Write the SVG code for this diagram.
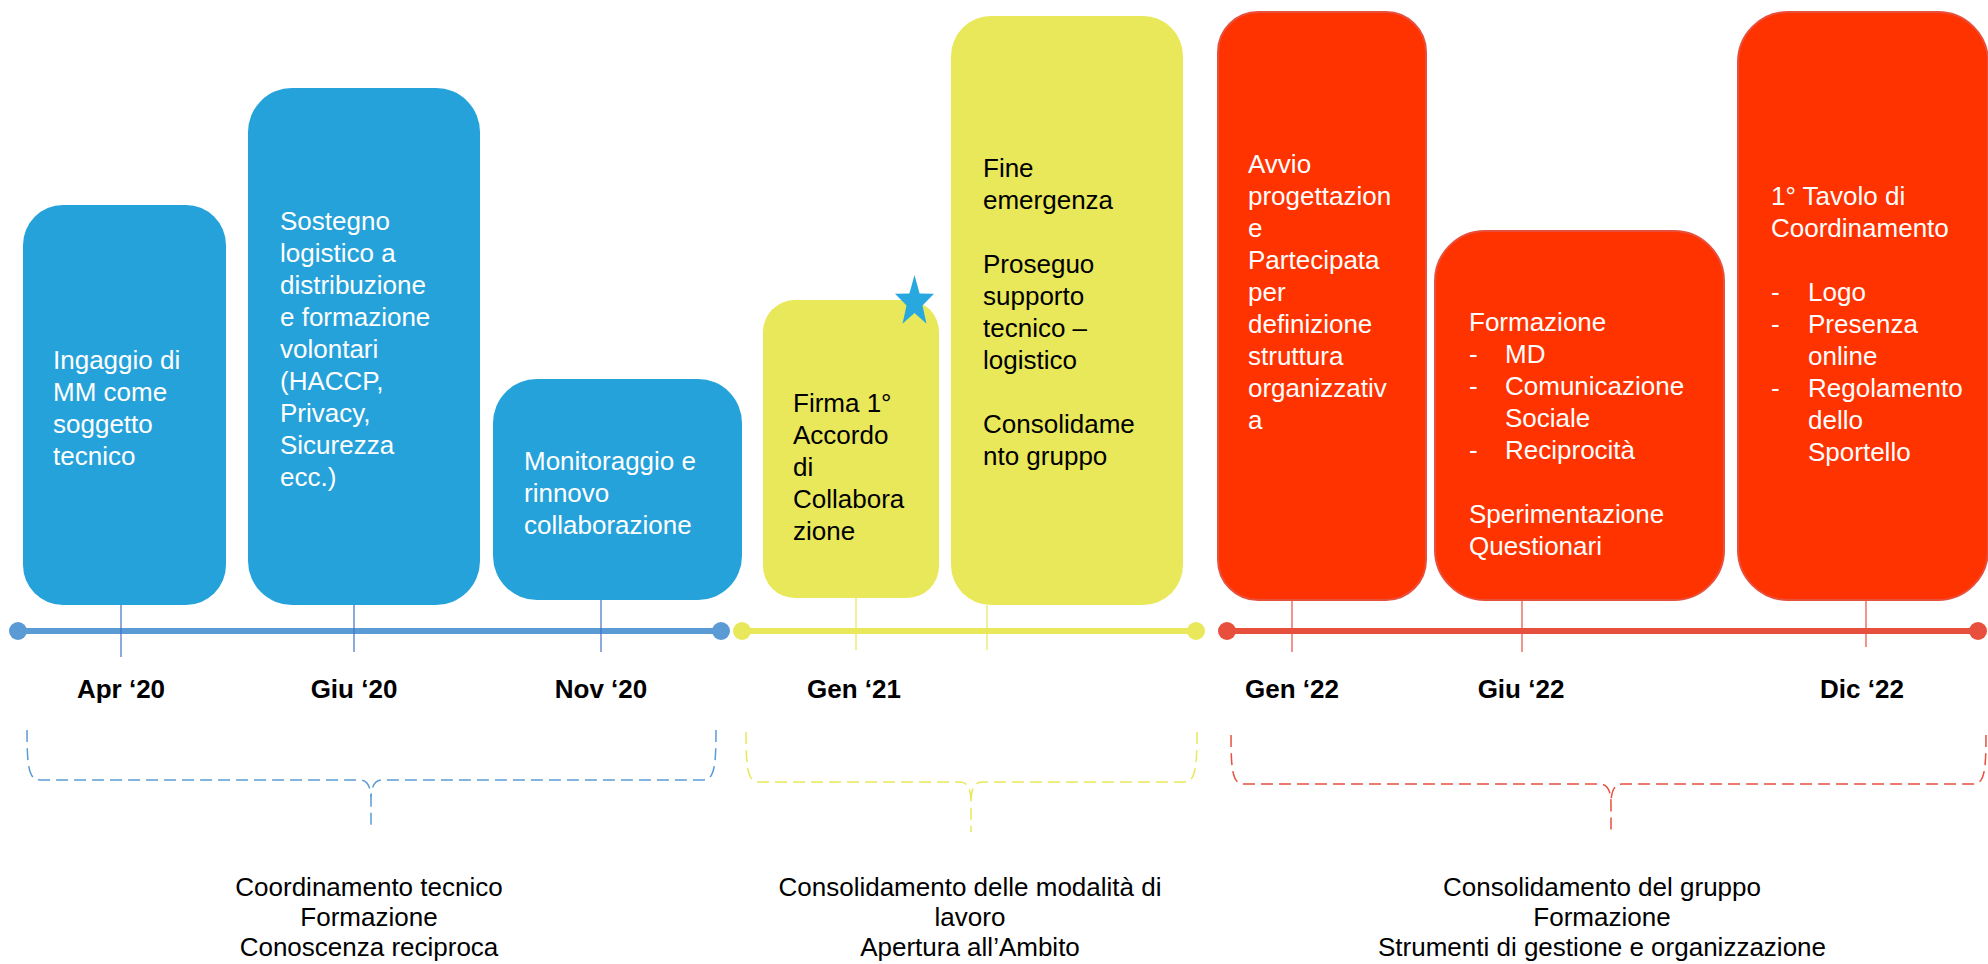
<svg xmlns="http://www.w3.org/2000/svg" width="1988" height="964" viewBox="0 0 1988 964">
<style>
.bt{font-family:"Liberation Sans",Arial,sans-serif;font-size:26px;fill:#fff}
.yt{font-family:"Liberation Sans",Arial,sans-serif;font-size:26px;fill:#000}
.dl{font-family:"Liberation Sans",Arial,sans-serif;font-size:26px;font-weight:bold;fill:#000;text-anchor:middle}
.gl{font-family:"Liberation Sans",Arial,sans-serif;font-size:26px;fill:#000;text-anchor:middle}
.blue{fill:#26A2DA}
.yel{fill:#E8E85A}
.red{fill:#FF3300;stroke:#E8503E;stroke-width:2}
.brace{fill:none;stroke-width:1.5;stroke-dasharray:12 6}
</style>
<rect width="1988" height="964" fill="#fff"/>

<g id="connectors">
  <!-- timelines -->
  <line x1="18" y1="631" x2="721" y2="631" stroke="#5B9BD5" stroke-width="6"/>
  <circle cx="18" cy="631" r="9" fill="#5B9BD5"/>
  <circle cx="721" cy="631" r="9" fill="#5B9BD5"/>
  <line x1="742" y1="631" x2="1196" y2="631" stroke="#E8E85A" stroke-width="6"/>
  <circle cx="742" cy="631" r="9" fill="#E8E85A"/>
  <circle cx="1196" cy="631" r="9" fill="#E8E85A"/>
  <line x1="1227" y1="631" x2="1978" y2="631" stroke="#E8503E" stroke-width="6"/>
  <circle cx="1227" cy="631" r="9" fill="#E8503E"/>
  <circle cx="1978" cy="631" r="9" fill="#E8503E"/>
  <!-- ticks -->
  <g stroke="#4472C4" stroke-width="1.2">
    <line x1="121" y1="605" x2="121" y2="657"/>
    <line x1="354" y1="605" x2="354" y2="652"/>
    <line x1="601" y1="600" x2="601" y2="652"/>
  </g>
  <g stroke="#E8E85A" stroke-width="1.2">
    <line x1="856" y1="598" x2="856" y2="650"/>
    <line x1="987" y1="605" x2="987" y2="650"/>
  </g>
  <g stroke="#E8503E" stroke-width="1.2">
    <line x1="1292" y1="600" x2="1292" y2="652"/>
    <line x1="1522" y1="600" x2="1522" y2="652"/>
    <line x1="1866" y1="600" x2="1866" y2="647"/>
  </g>
  <!-- braces -->
  <path class="brace" stroke="#5B9BD5" d="M27,730 C27,768 29,780 40,780 H360 C367,780 371,786 371,800 V830 M716,730 C716,768 714,780 703,780 H382 C375,780 371,786 371,800"/>
  <path class="brace" stroke="#E8E85A" d="M746,732 C746,770 748,782 759,782 H960 C967,782 971,788 971,802 V832 M1197,732 C1197,770 1195,782 1184,782 H982 C975,782 971,788 971,802"/>
  <path class="brace" stroke="#E8503E" d="M1231,735 C1231,773 1233,784 1244,784 H1600 C1607,784 1611,790 1611,804 V834 M1986,735 C1986,773 1984,784 1973,784 H1622 C1615,784 1611,790 1611,804"/>
</g>

<g id="box1">
  <rect class="blue" x="23" y="205" width="203" height="400" rx="40" ry="40"/>
  <text class="bt" x="53" y="369">Ingaggio di</text>
  <text class="bt" x="53" y="401">MM come</text>
  <text class="bt" x="53" y="433">soggetto</text>
  <text class="bt" x="53" y="465">tecnico</text>
</g>
<g id="box2">
  <rect class="blue" x="248" y="88" width="232" height="517" rx="44" ry="44"/>
  <text class="bt" x="280" y="230">Sostegno</text>
  <text class="bt" x="280" y="262">logistico a</text>
  <text class="bt" x="280" y="294">distribuzione</text>
  <text class="bt" x="280" y="326">e formazione</text>
  <text class="bt" x="280" y="358">volontari</text>
  <text class="bt" x="280" y="390">(HACCP,</text>
  <text class="bt" x="280" y="422">Privacy,</text>
  <text class="bt" x="280" y="454">Sicurezza</text>
  <text class="bt" x="280" y="486">ecc.)</text>
</g>
<g id="box3">
  <rect class="blue" x="493" y="379" width="249" height="221" rx="44" ry="44"/>
  <text class="bt" x="524" y="470">Monitoraggio e</text>
  <text class="bt" x="524" y="502">rinnovo</text>
  <text class="bt" x="524" y="534">collaborazione</text>
</g>
<g id="box4">
  <rect class="yel" x="763" y="300" width="176" height="298" rx="32" ry="32"/>
  <text class="yt" x="793" y="412">Firma 1°</text>
  <text class="yt" x="793" y="444">Accordo</text>
  <text class="yt" x="793" y="476">di</text>
  <text class="yt" x="793" y="508">Collabora</text>
  <text class="yt" x="793" y="540">zione</text>
</g>
<g id="star">
  <polygon fill="#29A8DF" points="914.5,275 919.6,293.5 934,293.7 922.5,305.5 926.5,323.8 914.5,313 902.5,323.8 906.5,305.5 895,293.7 909.4,293.5"/>
</g>
<g id="box5">
  <rect class="yel" x="951" y="16" width="232" height="589" rx="40" ry="40"/>
  <text class="yt" x="983" y="177">Fine</text>
  <text class="yt" x="983" y="209">emergenza</text>
  <text class="yt" x="983" y="273">Proseguo</text>
  <text class="yt" x="983" y="305">supporto</text>
  <text class="yt" x="983" y="337">tecnico –</text>
  <text class="yt" x="983" y="369">logistico</text>
  <text class="yt" x="983" y="433">Consolidame</text>
  <text class="yt" x="983" y="465">nto gruppo</text>
</g>
<g id="box6">
  <rect class="red" x="1218" y="12" width="208" height="588" rx="40" ry="40"/>
  <text class="bt" x="1248" y="173">Avvio</text>
  <text class="bt" x="1248" y="205">progettazion</text>
  <text class="bt" x="1248" y="237">e</text>
  <text class="bt" x="1248" y="269">Partecipata</text>
  <text class="bt" x="1248" y="301">per</text>
  <text class="bt" x="1248" y="333">definizione</text>
  <text class="bt" x="1248" y="365">struttura</text>
  <text class="bt" x="1248" y="397">organizzativ</text>
  <text class="bt" x="1248" y="429">a</text>
</g>
<g id="box7">
  <rect class="red" x="1435" y="231" width="289" height="369" rx="50" ry="50"/>
  <text class="bt" x="1469" y="331">Formazione</text>
  <text class="bt" x="1469" y="363">-</text>
  <text class="bt" x="1505" y="363">MD</text>
  <text class="bt" x="1469" y="395">-</text>
  <text class="bt" x="1505" y="395">Comunicazione</text>
  <text class="bt" x="1505" y="427">Sociale</text>
  <text class="bt" x="1469" y="459">-</text>
  <text class="bt" x="1505" y="459">Reciprocità</text>
  <text class="bt" x="1469" y="523">Sperimentazione</text>
  <text class="bt" x="1469" y="555">Questionari</text>
</g>
<g id="box8">
  <rect class="red" x="1738" y="12" width="250" height="588" rx="50" ry="50"/>
  <text class="bt" x="1771" y="205">1° Tavolo di</text>
  <text class="bt" x="1771" y="237">Coordinamento</text>
  <text class="bt" x="1771" y="301">-</text>
  <text class="bt" x="1808" y="301">Logo</text>
  <text class="bt" x="1771" y="333">-</text>
  <text class="bt" x="1808" y="333">Presenza</text>
  <text class="bt" x="1808" y="365">online</text>
  <text class="bt" x="1771" y="397">-</text>
  <text class="bt" x="1808" y="397">Regolamento</text>
  <text class="bt" x="1808" y="429">dello</text>
  <text class="bt" x="1808" y="461">Sportello</text>
</g>

<g id="dates">
  <text class="dl" x="121" y="698">Apr ‘20</text>
  <text class="dl" x="354" y="698">Giu ‘20</text>
  <text class="dl" x="601" y="698">Nov ‘20</text>
  <text class="dl" x="854" y="698">Gen ‘21</text>
  <text class="dl" x="1292" y="698">Gen ‘22</text>
  <text class="dl" x="1521" y="698">Giu ‘22</text>
  <text class="dl" x="1862" y="698">Dic ‘22</text>
</g>

<g id="phase1">
  <text class="gl" x="369" y="896">Coordinamento tecnico</text>
  <text class="gl" x="369" y="926">Formazione</text>
  <text class="gl" x="369" y="956">Conoscenza reciproca</text>
</g>
<g id="phase2">
  <text class="gl" x="970" y="896">Consolidamento delle modalità di</text>
  <text class="gl" x="970" y="926">lavoro</text>
  <text class="gl" x="970" y="956">Apertura all’Ambito</text>
</g>
<g id="phase3">
  <text class="gl" x="1602" y="896">Consolidamento del gruppo</text>
  <text class="gl" x="1602" y="926">Formazione</text>
  <text class="gl" x="1602" y="956">Strumenti di gestione e organizzazione</text>
</g>
</svg>
